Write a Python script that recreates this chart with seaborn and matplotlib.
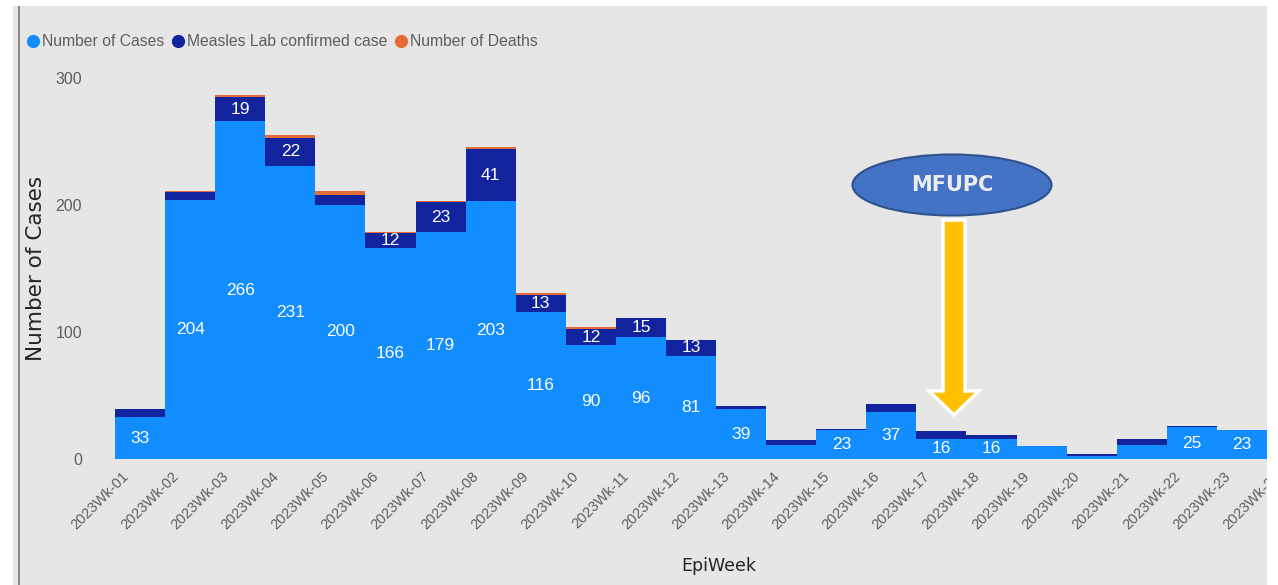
import matplotlib
matplotlib.use("Agg")
import matplotlib.pyplot as plt
import matplotlib.transforms as mtransforms
from matplotlib import font_manager
from matplotlib.patches import Rectangle, Ellipse, FancyArrow
from matplotlib.lines import Line2D
import seaborn as sns

weeks = ["2023Wk-01", "2023Wk-02", "2023Wk-03", "2023Wk-04", "2023Wk-05", "2023Wk-06",
         "2023Wk-07", "2023Wk-08", "2023Wk-09", "2023Wk-10", "2023Wk-11", "2023Wk-12",
         "2023Wk-13", "2023Wk-14", "2023Wk-15", "2023Wk-16", "2023Wk-17", "2023Wk-18",
         "2023Wk-19", "2023Wk-20", "2023Wk-21", "2023Wk-22", "2023Wk-23", "2023Wk-24"]
cases = [33, 204, 266, 231, 200, 166, 179, 203, 116, 90, 96, 81,
         39, 11, 23, 37, 16, 16, 10, 2, 11, 25, 23, 0]
lab_confirmed = [6, 6, 19, 22, 8, 12, 23, 41, 13, 12, 15, 13,
                 3, 4, 1, 6, 6, 3, 0, 2, 5, 1, 0, 0]
deaths = [0, 1, 2, 2, 3, 1, 1, 2, 2, 2, 0, 0,
          0, 0, 0, 0, 0, 0, 0, 0, 0, 0, 0, 0]

c_cases = "#118DFF"
c_lab = "#12239E"
c_death = "#E66C37"
bg = "#E6E6E6"
txt_gray = "#605E5C"

sns.set_theme(style="white")
names = set(font_manager.get_font_names())
if "Liberation Sans Narrow" in names:
    narrow = "Liberation Sans Narrow"
elif "Liberation Sans" in names:
    narrow = "Liberation Sans"
else:
    narrow = "DejaVu Sans"
plt.rcParams["font.family"] = [narrow, "DejaVu Sans"]

W, H = 1278, 585
fig = plt.figure(figsize=(W / 100, H / 100), dpi=100)
fig.patch.set_facecolor("white")
fig.add_artist(Rectangle((13 / W, 0), (1267 - 13) / W, 1 - 6 / H, transform=fig.transFigure,
                         facecolor=bg, edgecolor="none", zorder=-10))
fig.add_artist(Line2D([19 / W, 19 / W], [0, 1 - 6 / H], transform=fig.transFigure,
                      color="#8A8A8A", lw=1.5, zorder=-9))

ax = fig.add_axes([100 / W, 1 - 459 / H, 1230 / W, 399 / H])
ax.set_facecolor("none")

lab_top = [c + l for c, l in zip(cases, lab_confirmed)]
total = [t + d for t, d in zip(lab_top, deaths)]

# stacked look: draw cumulative totals back to front
sns.barplot(x=weeks, y=total, color=c_death, width=1, linewidth=0, saturation=1,
            errorbar=None, ax=ax)
sns.barplot(x=weeks, y=lab_top, color=c_lab, width=1, linewidth=0, saturation=1,
            errorbar=None, ax=ax)
sns.barplot(x=weeks, y=cases, color=c_cases, width=1, linewidth=0, saturation=1,
            errorbar=None, ax=ax)

for i, (c, l) in enumerate(zip(cases, lab_confirmed)):
    if c >= 12:
        ax.text(i, c / 2, str(c), ha="center", va="center", color="white", fontsize=12.5)
    if l >= 12:
        ax.text(i, c + l / 2, str(l), ha="center", va="center", color="white", fontsize=12.5)

bar_px = (1267 - 115) / 23
ax.set_xlim(-0.5 - 15 / bar_px, -0.5 + (1330 - 115) / bar_px)
ax.set_ylim(0, 399 / 1.27)
ax.set_yticks([0, 100, 200, 300])
sns.despine(ax=ax, left=True, bottom=True)
ax.tick_params(axis="y", length=0, pad=13, labelsize=11.5, labelcolor=txt_gray)
ax.tick_params(axis="x", length=0, pad=0, labelsize=10.5, labelcolor=txt_gray)
ax.grid(False)

offset = mtransforms.ScaledTranslation(-14 / 100, -15 / 100, fig.dpi_scale_trans)
for lbl in ax.get_xticklabels():
    lbl.set_rotation(45)
    lbl.set_ha("right")
    lbl.set_va("center")
    lbl.set_rotation_mode("anchor")
    lbl.set_transform(lbl.get_transform() + offset)

ax.set_ylabel("Number of Cases", fontsize=15.5, color="#252423", family="DejaVu Sans")
ax.yaxis.set_label_coords((46 - 100) / 1230, (459 - 268) / 399)
ax.set_xlabel("EpiWeek", fontsize=12.5, color="#252423", family="DejaVu Sans")
ax.xaxis.set_label_coords((719 - 100) / 1230, (459 - 557) / 399)

handles = [Line2D([], [], marker="o", ls="none", markersize=8.5, color=c)
           for c in (c_cases, c_lab, c_death)]
fig.legend(handles, ["Number of Cases", "Measles Lab confirmed case", "Number of Deaths"],
           loc="center left", bbox_to_anchor=(26 / W, 1 - 42 / H), ncol=3, frameon=False,
           fontsize=11.3, labelcolor=txt_gray, handlelength=0.85, handletextpad=0.15,
           columnspacing=0.45, borderpad=0, borderaxespad=0)

# MFUPC callout
fig.add_artist(Ellipse((952 / W, 1 - 185 / H), 199 / W, 61 / H, transform=fig.transFigure,
                       facecolor="#4472C4", edgecolor="#2F528F", lw=1.5, zorder=5))
fig.text(952 / W, 1 - 185 / H, "MFUPC", ha="center", va="center", color="#EDEDED",
         fontsize=15, fontweight="bold", family="DejaVu Sans", zorder=6)
fig.add_artist(FancyArrow(954 / W, 1 - 220 / H, 0, -(415 - 220) / H, width=22 / W,
                          head_width=50 / W, head_length=24 / H, length_includes_head=True,
                          transform=fig.transFigure, facecolor="#FFC000",
                          edgecolor="white", lw=2.5, zorder=5))

# crop on the right and top like the screenshot
fig.add_artist(Rectangle((1267 / W, 0), 11 / W, 1, transform=fig.transFigure,
                         facecolor="white", edgecolor="none", zorder=10))
fig.add_artist(Rectangle((0, 1 - 6 / H), 1, 6 / H, transform=fig.transFigure,
                         facecolor="white", edgecolor="none", zorder=10))

fig.savefig("out.png", dpi=100)
